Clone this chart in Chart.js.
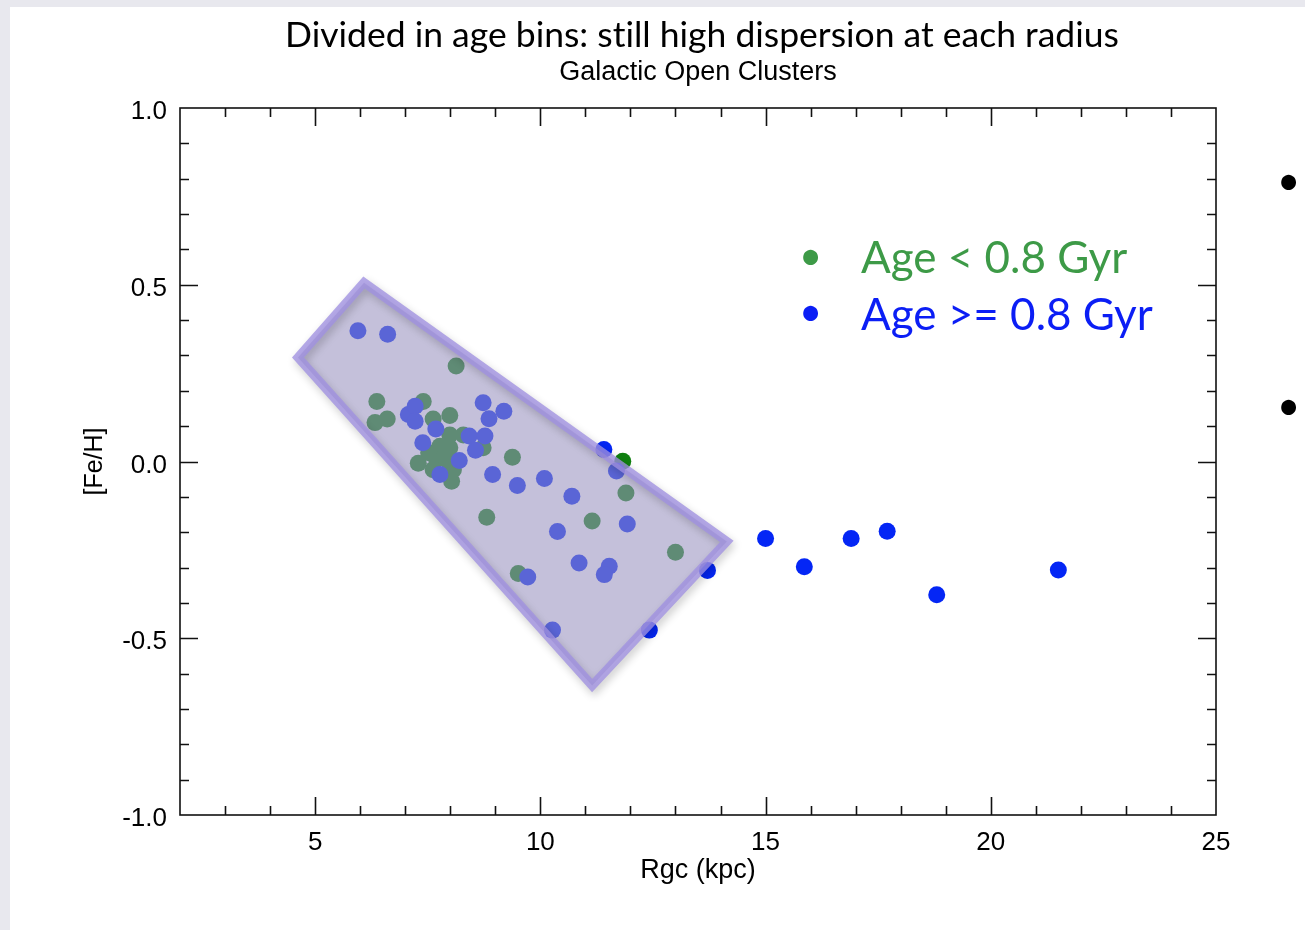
<!DOCTYPE html>
<html>
<head>
<meta charset="utf-8">
<title>Galactic Open Clusters</title>
<script src="https://cdn.jsdelivr.net/npm/chart.js@4.4.1/dist/chart.umd.min.js"></script>
<style>
  html, body { margin: 0; padding: 0; }
  body { width: 1305px; height: 930px; background: #e8e8ee; position: relative; overflow: hidden; }
  #slide { position: absolute; left: 10px; top: 7px; right: 0; bottom: 0; background: #fff; }
  #chart { position: absolute; left: 0; top: 0; }
  .txt { position: absolute; white-space: nowrap; line-height: 1; font-variant-ligatures: none; }
  .title { font-family: Lato, sans-serif; font-size: 35.5px; color: #000; transform: translateX(-50%); }
  .subtitle { font-family: "Liberation Sans", Arial, sans-serif; font-size: 27px; color: #000; transform: translateX(-50%); }
  .leg { font-family: Lato, sans-serif; font-size: 44px; }
  .bul { font-family: Lato, sans-serif; font-size: 40px; }
</style>
</head>
<body>
<div id="slide"></div>
<canvas id="chart" width="1305" height="930"></canvas>

<div class="txt title" style="left:702px; top:16px;">Divided in age bins: still high dispersion at each radius</div>
<div class="txt subtitle" style="left:698px; top:58px;">Galactic Open Clusters</div>

<div class="txt bul" style="left:799px; top:235px; color:#3d9a47;">•</div>
<div class="txt leg" style="left:861px; top:234px; color:#3d9a47;">Age &lt; 0.8 Gyr</div>
<div class="txt bul" style="left:799px; top:291px; color:#0b1ef5;">•</div>
<div class="txt leg" style="left:861px; top:291px; color:#0b1ef5;">Age &gt;= 0.8 Gyr</div>

<div class="txt bul" style="left:1277px; top:160px; color:#000;">•</div>
<div class="txt bul" style="left:1277px; top:385px; color:#000;">•</div>

<script>
(function () {
  'use strict';

  // --- Data (Rgc in kpc, [Fe/H]) ---
  var youngR  = [6.37, 6.33, 6.60, 7.40, 7.62, 7.99, 8.13, 7.99, 7.77, 7.99, 7.29, 7.70, 7.99, 7.62, 8.07,
                 8.03, 8.29, 8.73, 9.38, 8.81, 11.15, 11.90, 11.83, 13.00, 9.51, 7.52, 7.88];
  var youngFe = [0.17, 0.11, 0.12, 0.17, 0.12, 0.13, 0.27, 0.075, 0.043, 0.039, -0.005, 0.006, -0.005, -0.023, -0.023,
                 -0.056, 0.075, 0.039, 0.012, -0.158, -0.168, -0.089, 0.001, -0.257, -0.317, 0.025, 0.015];

  var oldR  = [5.95, 6.61, 7.07, 7.22, 7.22, 7.68, 7.39, 7.77, 8.20, 8.42, 8.73, 9.19, 8.86, 8.77, 8.56,
               8.94, 9.49, 10.09, 10.70, 10.38, 11.93, 11.41, 11.69, 13.71, 10.86, 11.53, 11.42, 9.72,
               10.27, 12.42, 15.00, 15.86, 16.90, 17.70, 18.80, 21.50];
  var oldFe = [0.37, 0.36, 0.133, 0.156, 0.114, 0.092, 0.053, -0.037, 0.003, 0.072, 0.166, 0.142, 0.121, 0.072, 0.032,
               -0.037, -0.068, -0.048, -0.098, -0.198, -0.177, 0.034, -0.027, -0.308, -0.287, -0.296, -0.32, -0.327,
               -0.477, -0.477, -0.218, -0.298, -0.218, -0.197, -0.377, -0.307];

  // highlighted region; first edge repeated so the outline joins cleanly
  var boxR  = [4.62, 6.085, 14.14, 11.15, 4.62, 6.085];
  var boxFe = [0.294, 0.506, -0.226, -0.634, 0.294, 0.506];

  var xTicks = [5, 10, 15, 20, 25];
  var yTicks = [-1.0, -0.5, 0.0, 0.5, 1.0];

  function pts(xs, ys) {
    return xs.map(function (x, i) { return { x: x, y: ys[i] }; });
  }

  // frame with inward ticks on all four sides
  var frameTicks = {
    id: 'frameTicks',
    afterDraw: function (chart) {
      var ctx = chart.ctx, a = chart.chartArea;
      var xs = chart.scales.x, ys = chart.scales.y;
      ctx.save();
      ctx.strokeStyle = '#111';
      ctx.lineWidth = 1.6;
      ctx.strokeRect(a.left, a.top, a.right - a.left, a.bottom - a.top);
      ctx.beginPath();
      for (var v = 3; v < 25; v++) {
        var px = Math.round(xs.getPixelForValue(v)) + 0.5;
        var len = v % 5 === 0 ? 18 : 9;
        ctx.moveTo(px, a.bottom); ctx.lineTo(px, a.bottom - len);
        ctx.moveTo(px, a.top); ctx.lineTo(px, a.top + len);
      }
      for (var k = -9; k <= 9; k++) {
        var py = Math.round(ys.getPixelForValue(k / 10)) + 0.5;
        var ylen = k % 5 === 0 ? 18 : 9;
        ctx.moveTo(a.left, py); ctx.lineTo(a.left + ylen, py);
        ctx.moveTo(a.right, py); ctx.lineTo(a.right - ylen, py);
      }
      ctx.stroke();
      ctx.restore();
    }
  };

  // soft drop shadow under the region outline
  var boxShadow = {
    id: 'boxShadow',
    beforeDatasetDraw: function (chart, args) {
      if (args.index !== 0) return;
      var ctx = chart.ctx;
      ctx.save();
      ctx.shadowColor = 'rgba(0,0,0,0.25)';
      ctx.shadowBlur = 8;
      ctx.shadowOffsetX = 2;
      ctx.shadowOffsetY = 4;
    },
    afterDatasetDraw: function (chart, args) {
      if (args.index !== 0) return;
      chart.ctx.restore();
    }
  };

  var tickFont = { family: '"Liberation Sans", Arial, sans-serif', size: 26 };

  new Chart(document.getElementById('chart'), {
    type: 'scatter',
    data: {
      datasets: [{
        type: 'line',
        label: 'region',
        data: pts(boxR, boxFe),
        borderColor: 'rgba(160,145,225,0.78)',
        borderWidth: 9,
        borderJoinStyle: 'miter',
        backgroundColor: 'rgba(153,147,191,0.58)',
        fill: 'shape',
        tension: 0,
        pointRadius: 0
      }, {
        label: 'Age >= 0.8 Gyr',
        data: pts(oldR, oldFe),
        backgroundColor: '#0426f5',
        borderWidth: 0,
        pointRadius: 8.5
      }, {
        label: 'Age < 0.8 Gyr',
        data: pts(youngR, youngFe),
        backgroundColor: '#108010',
        borderWidth: 0,
        pointRadius: 8.5
      }]
    },
    options: {
      responsive: false,
      animation: false,
      events: [],
      layout: { padding: { left: 60, right: 89, top: 108, bottom: 30 } },
      plugins: {
        legend: { display: false },
        tooltip: { enabled: false }
      },
      scales: {
        x: {
          type: 'linear',
          min: 2,
          max: 25,
          afterBuildTicks: function (s) { s.ticks = xTicks.map(function (v) { return { value: v }; }); },
          afterFit: function (s) { s.height = 85; },
          grid: { display: false, drawTicks: false },
          border: { display: false },
          ticks: { color: '#000', font: tickFont, padding: 12, maxRotation: 0,
                   callback: function (v) { return String(v); } },
          title: { display: true, text: 'Rgc (kpc)', color: '#000',
                   font: { family: '"Liberation Sans", Arial, sans-serif', size: 27 },
                   padding: { top: 0, bottom: 13 } }
        },
        y: {
          type: 'linear',
          min: -1,
          max: 1,
          afterBuildTicks: function (s) { s.ticks = yTicks.map(function (v) { return { value: v }; }); },
          afterFit: function (s) { s.width = 120; },
          grid: { display: false, drawTicks: false },
          border: { display: false },
          ticks: { color: '#000', font: tickFont, padding: 13, labelOffset: 4,
                   callback: function (v) { return v.toFixed(1); } },
          title: { display: true, text: '[Fe/H]', color: '#000',
                   font: { family: '"Liberation Sans", Arial, sans-serif', size: 25 },
                   padding: { top: 20, bottom: 0 } }
        }
      }
    },
    plugins: [boxShadow, frameTicks]
  });
})();
</script>
</body>
</html>
